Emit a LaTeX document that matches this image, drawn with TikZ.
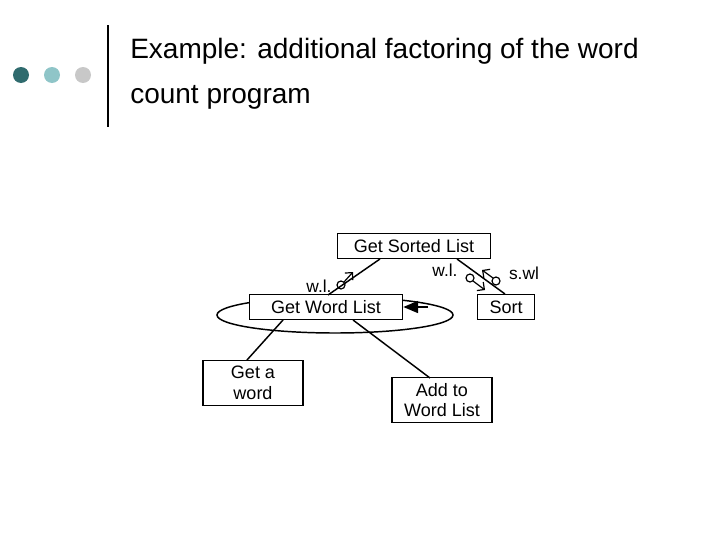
\documentclass[tikz,border=0pt]{standalone}
\usepackage{fontspec}
\setmainfont{Liberation Sans}
\usetikzlibrary{arrows.meta}
\begin{document}
\begin{tikzpicture}[x=0.75pt,y=-0.75pt,
  bx/.style={draw,line width=1pt,fill=white,inner sep=0pt,font=\fontsize{13.5}{15.5}\selectfont,align=center},
  lbl/.style={font=\fontsize{13}{14}\selectfont,inner sep=0pt},
  cpl/.style={-{Straight Barb[length=4pt]},line width=0.9pt}]
\useasboundingbox (0,0) rectangle (728,546);
\fill[fill=white] (0,0) rectangle (728,546);
\fill[color={rgb,255:red,47;green,107;blue,110}] (21,75) circle (8);
\fill[color={rgb,255:red,143;green,197;blue,200}] (52,75) circle (8);
\fill[color={rgb,255:red,200;green,200;blue,200}] (83,75) circle (8);
\draw[line width=2.2pt] (108,25) -- (108,127);
\node[anchor=base west,inner sep=0pt,font=\fontsize{21}{24}\selectfont] (t1) at (130,58) {Example: additional factoring of the word};
\node[anchor=base west,inner sep=0pt,font=\fontsize{21}{24}\selectfont] (t2) at (130,103) {count program};
% loop
\draw[line width=1.1pt] (335,315) ellipse (118 and 18);
\node[bx,minimum width=115pt,minimum height=19pt] (gsl) at (414,246) {Get Sorted List};
\node[bx,minimum width=115pt,minimum height=19pt] (gwl) at (326,307) {Get Word List};
\node[bx,minimum width=43pt,minimum height=19pt] (sort) at (506,307) {Sort};
\node[bx,minimum width=75pt,minimum height=34pt] (gaw) at (253,383) {Get a\\word};
\node[bx,minimum width=75pt,minimum height=34pt] (add) at (442,400) {Add to\\Word List};
\coordinate (ae) at (428,307);
\draw[line width=1.1pt,-{Triangle[length=11pt,width=9pt]}] (ae) -- (gwl.east);
\draw[line width=1.1pt] (380,259) -- (328,295);
\draw[line width=1.1pt] (457,259) -- (505,294);
\draw[line width=1.1pt] (283,320) -- (247,360);
\draw[line width=1.1pt] (353,320) -- (430,378);
% couples
\node[lbl] (l1) at (319,286) {w.l.};
\draw[line width=0.9pt] (341,285) circle (4);
\coordinate (c1) at (353,272);
\draw[cpl] (344,282) -- (c1);
\node[lbl] (l2) at (445,270) {w.l.};
\draw[line width=0.9pt] (470,278) circle (4);
\coordinate (c2) at (485,290);
\draw[cpl] (473,281) -- (c2);
\node[lbl] (l3) at (524,273) {s.wl};
\draw[line width=0.9pt] (496,281) circle (4);
\coordinate (c3) at (482,270);
\draw[cpl] (493,278) -- (c3);
\end{tikzpicture}
\end{document}
